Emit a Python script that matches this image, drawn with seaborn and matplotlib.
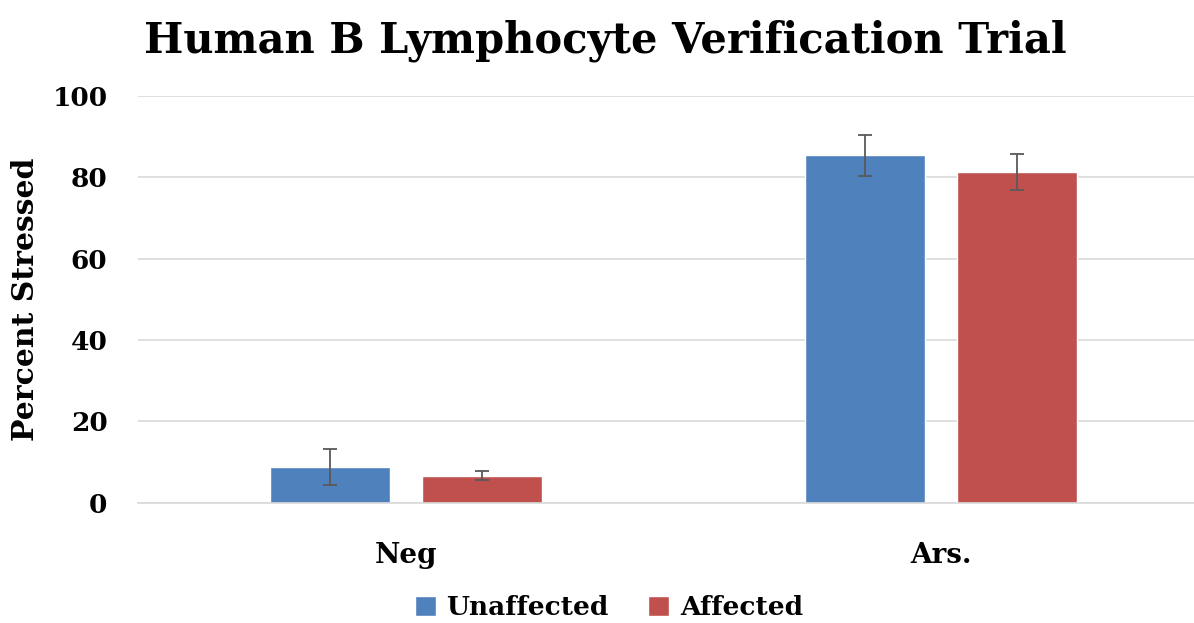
import pandas as pd
import matplotlib.pyplot as plt
import seaborn as sns

# data
categories = ["Neg", "Ars."]
groups = ["Unaffected", "Affected"]
unaffected = [8.8, 85.4]
affected = [6.7, 81.4]
unaffected_err = [4.5, 5.0]
affected_err = [1.0, 4.4]

df = pd.DataFrame({
    "Condition": categories * 2,
    "Group": [groups[0]] * 2 + [groups[1]] * 2,
    "Percent": unaffected + affected,
})
errs = {groups[0]: unaffected_err, groups[1]: affected_err}

sns.set_style("white")
plt.rcParams['font.family'] = ['DejaVu Serif']
plt.rcParams['font.weight'] = 'bold'
plt.rcParams['text.color'] = 'black'
plt.rcParams['xtick.color'] = 'black'
plt.rcParams['ytick.color'] = 'black'
plt.rcParams['axes.labelcolor'] = 'black'

fig = plt.figure(figsize=(11.94, 6.23), dpi=100)
ax = fig.add_axes([0.1156, 0.193, 0.8844, 0.653])

sns.barplot(data=df, x="Condition", y="Percent", hue="Group",
            order=categories, hue_order=groups,
            palette=["#4F81BD", "#C0504D"], width=0.568, gap=0.21,
            saturation=1, ax=ax)

# error bars on top of each bar
for cont, g in zip(ax.containers, groups):
    xs = [b.get_x() + b.get_width() / 2 for b in cont]
    ys = [b.get_height() for b in cont]
    ax.errorbar(xs, ys, yerr=errs[g], fmt="none", ecolor="#595959",
                elinewidth=1.3, capsize=5, capthick=1.3)

ax.set_ylim(0, 100)
ax.set_xlim(-0.5, 1.472)
ax.set_yticks(range(0, 101, 20))
ax.yaxis.grid(True, color="#d9d9d9", linewidth=1.2)
ax.set_axisbelow(True)
for s in ["top", "right", "left"]:
    ax.spines[s].set_visible(False)
ax.spines["bottom"].set_color("#d9d9d9")
ax.spines["bottom"].set_linewidth(1.2)
ax.tick_params(axis="y", length=0, labelsize=19, pad=22)
ax.tick_params(axis="x", length=0, labelsize=20, pad=28)
for lab in ax.get_xticklabels() + ax.get_yticklabels():
    lab.set_fontweight("bold")
ax.set_xlabel("")
ax.set_ylabel("Percent Stressed", fontsize=21.5, fontweight="bold")
ax.yaxis.set_label_coords(-0.093, 0.5)

fig.text(0.507, 0.935, "Human B Lymphocyte Verification Trial",
         ha="center", va="center", fontsize=30, fontweight="bold")

handles, labels = ax.get_legend_handles_labels()
ax.legend(handles, labels, loc="center", bbox_to_anchor=(0.51, 0.025),
          bbox_transform=fig.transFigure, ncol=2, frameon=False,
          handlelength=0.8, handleheight=0.8, handletextpad=0.4,
          columnspacing=1.5, prop={"size": 19, "weight": "bold"})

fig.savefig("out.png", dpi=100)
